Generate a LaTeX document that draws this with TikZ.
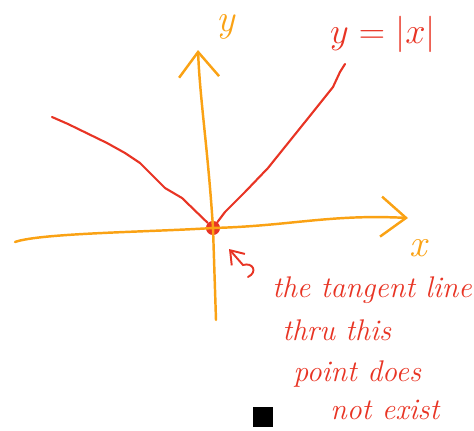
\documentclass[tikz,border=0pt]{standalone}
\usetikzlibrary{positioning, arrows.meta}

\definecolor{axisorange}{RGB}{250,162,20}
\definecolor{penred}{RGB}{232,52,36}

\begin{document}
\begin{tikzpicture}[
    x=0.02cm, y=-0.02cm,
    axis/.style={draw=axisorange, line width=1.4pt, line cap=round, line join=round},
    axishead/.style={-{Straight Barb[length=0.5cm, width=0.8cm, line width=1.4pt]}},
    graph/.style={draw=penred, line width=1.2pt, line cap=round, line join=round},
    pointer/.style={-{Straight Barb[length=0.25cm, width=0.35cm]}, draw=penred, line width=1.1pt, line cap=round},
    axislabel/.style={text=axisorange, font=\fontsize{22}{26}\selectfont\itshape, inner sep=0pt},
    note/.style={text=penred, font=\fontsize{17}{20}\selectfont\itshape, inner sep=0pt, anchor=west}
]
    \useasboundingbox (0,0) rectangle (474,430);

    % Nodes
    \node[fill=penred, circle, minimum size=8pt, inner sep=0pt] (O) at (213,228) {};
    \coordinate (xL) at (15,242);
    \coordinate (xR) at (408,218);
    \coordinate (yT) at (198,50);
    \coordinate (yB) at (216,320);
    \coordinate (cL) at (52,117);
    \coordinate (cR) at (345,64);
    \coordinate (tail) at (248,277);
    \coordinate (tip) at (229,249);

    \node[axislabel] (ylab) at (226,27) {y};
    \node[axislabel] (xlab) at (418,248) {x};
    \node[text=penred, font=\fontsize{22}{26}\selectfont, inner sep=0pt] (eq) at (383,34) {$y = |x|$};

    \node[note] (l1) at (272,290) {the tangent line};
    \node[note] (l2) at (282,330) {thru this};
    \node[note] (l3) at (293,374) {point does};
    \node[note] (l4) at (330,410) {not exist};

    \node[fill=black, minimum size=0.4cm, inner sep=0pt] (mark) at (263,417) {};

    % Axes
    \draw[axis, axishead] (xL) .. controls (40,233) and (150,232) .. (O.center)
        .. controls (290,226) and (330,214) .. (xR);
    \draw[axis, axishead] (yB) -- (O.center) .. controls (208,150) and (200,100) .. (yT);

    % Graph of |x|
    \draw[graph] (cL) -- (68,124) -- (107,143) -- (125,153) -- (140,163)
        -- (165,188) -- (182,198) -- (O);
    \draw[graph] (O) -- (225,212) -- (245,192) -- (268,168) -- (305,122)
        -- (333,87) -- (340,72) -- (cR);

    % Pointer to the corner
    \draw[pointer] (tail) .. controls (258,272) and (253,262) .. (243,265) -- (tip);
\end{tikzpicture}
\end{document}
